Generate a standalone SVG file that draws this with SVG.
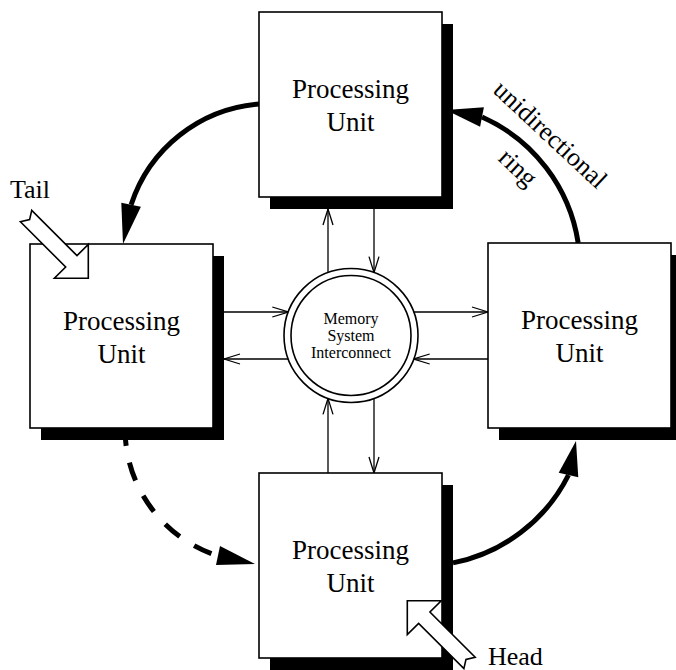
<svg xmlns="http://www.w3.org/2000/svg" width="676" height="670" viewBox="0 0 676 670">
<defs>
<style>
.box{fill:#fff;stroke:#000;stroke-width:1.6}
.shadow{fill:#000}
.lbl{font-family:"Liberation Serif","Times New Roman",serif;font-size:27px;fill:#000;text-anchor:middle}
.small{font-size:16px}
.link{stroke:#000;stroke-width:1.3;fill:none}
.ring{stroke:#000;stroke-width:5;fill:none}
.dash{stroke-dasharray:19 17;stroke-dashoffset:3}
.head{fill:#000;stroke:none}
.hollow{fill:#fff;stroke:#000;stroke-width:1.6;stroke-linejoin:miter}
.circ{fill:#fff;stroke:#000;stroke-width:1.6}
</style>
<marker id="open" markerUnits="userSpaceOnUse" markerWidth="20" markerHeight="14" viewBox="-18 -7 20 14" refX="0" refY="0" orient="auto">
<path d="M -16 -5 L 0 0 L -16 5" fill="none" stroke="#000" stroke-width="1.3"/>
</marker>
</defs>
<rect width="676" height="670" fill="#fff"/>

<g id="connectors">
  <!-- unidirectional ring -->
  <path class="ring" d="M 259 104 A 147 147 0 0 0 131.1 204.8"/>
  <polygon class="head" points="123,244 140.9,206.8 121.3,202.8"/>
  <path class="ring" d="M 578.2 243 A 165 165 0 0 0 482 117"/>
  <polygon class="head" points="446,110 483.9,107.2 480.1,126.8"/>
  <path class="ring" d="M 453 562.9 A 165 165 0 0 0 568.5 475"/>
  <polygon class="head" points="576,441 578.3,477.2 558.7,472.8"/>
  <path class="ring dash" d="M 125 430 A 134 134 0 0 0 218 556"/>
  <polygon class="head" points="255,564 220,546 216,565"/>
  <!-- memory interconnect links -->
  <path class="link" d="M328 280.1 L328 209" marker-end="url(#open)"/>
  <path class="link" d="M374 209 L374 272.6" marker-end="url(#open)"/>
  <path class="link" d="M224 312 L288.3 312" marker-end="url(#open)"/>
  <path class="link" d="M295.8 359 L224 359" marker-end="url(#open)"/>
  <path class="link" d="M406.2 312 L488 312" marker-end="url(#open)"/>
  <path class="link" d="M488 359 L413.7 359" marker-end="url(#open)"/>
  <path class="link" d="M328 473 L328 398.4" marker-end="url(#open)"/>
  <path class="link" d="M374 390.9 L374 473" marker-end="url(#open)"/>
</g>

<g id="pu-top">
  <rect class="shadow" x="270" y="24" width="183" height="185"/>
  <rect class="box" x="259" y="12" width="183" height="185"/>
  <text class="lbl" x="350.5" y="98">Processing</text>
  <text class="lbl" x="350.5" y="131">Unit</text>
</g>
<g id="pu-left">
  <rect class="shadow" x="41" y="256" width="183" height="184"/>
  <rect class="box" x="30" y="244" width="183" height="184"/>
  <text class="lbl" x="121.5" y="330">Processing</text>
  <text class="lbl" x="121.5" y="363">Unit</text>
</g>
<g id="pu-right">
  <rect class="shadow" x="499" y="255" width="183" height="185"/>
  <rect class="box" x="488" y="243" width="183" height="185"/>
  <text class="lbl" x="579.5" y="329">Processing</text>
  <text class="lbl" x="579.5" y="362">Unit</text>
</g>
<g id="pu-bottom">
  <rect class="shadow" x="270" y="485" width="183" height="185"/>
  <rect class="box" x="259" y="473" width="183" height="185"/>
  <text class="lbl" x="350.5" y="559">Processing</text>
  <text class="lbl" x="350.5" y="592">Unit</text>
</g>
<g id="memory">
  <circle class="circ" cx="351" cy="335.5" r="67"/>
  <circle class="circ" cx="351" cy="335.5" r="60"/>
  <text class="lbl small" x="351" y="323.5">Memory</text>
  <text class="lbl small" x="351" y="340.5">System</text>
  <text class="lbl small" x="351" y="357.5">Interconnect</text>
</g>

<g id="tail">
  <path class="hollow" transform="translate(88.3,278.3) rotate(45)" d="M0 0 L-24 -24 L-24 -8 L-88 -8 L-83 0 L-88 8 L-24 8 L-24 24 Z"/>
  <text class="lbl" x="10" y="198" style="text-anchor:start;font-size:26px">Tail</text>
</g>
<g id="head">
  <path class="hollow" transform="translate(407.3,600.7) rotate(225)" d="M0 0 L-24 -24 L-24 -8 L-88 -8 L-83 0 L-88 8 L-24 8 L-24 24 Z"/>
  <text class="lbl" x="488" y="665" style="text-anchor:start;font-size:26px">Head</text>
</g>
<g id="ring-label">
  <text class="lbl" style="font-size:26px" transform="translate(544.5,140.8) rotate(43)">unidirectional</text>
  <text class="lbl" style="font-size:26px" transform="translate(512.3,173.9) rotate(43)">ring</text>
</g>
</svg>
